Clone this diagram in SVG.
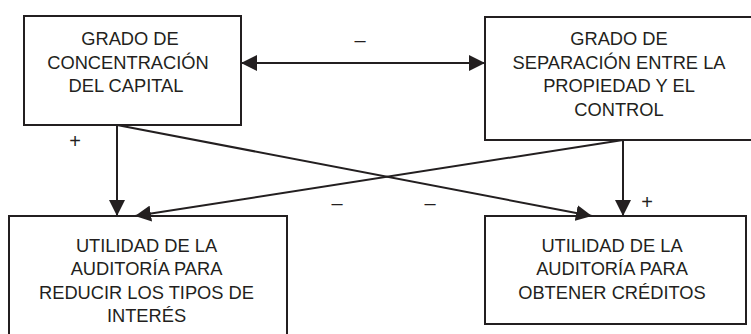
<svg xmlns="http://www.w3.org/2000/svg" width="751" height="334" viewBox="0 0 751 334">
<style>
.box{fill:#fff;stroke:#231f20;stroke-width:2}
.t{font-family:"Liberation Sans",Arial,sans-serif;font-size:18.3px;fill:#231f20;text-anchor:middle}
.c{stroke:#231f20;stroke-width:2;fill:none}
.s{font-family:"Liberation Sans",Arial,sans-serif;font-size:20px;fill:#231f20;text-anchor:middle}
</style>
<defs>
<marker id="ah" markerUnits="userSpaceOnUse" markerWidth="17" markerHeight="16" refX="16" refY="8" orient="auto-start-reverse" viewBox="0 0 17 16">
<path d="M0,0 L16,8 L0,16 z" fill="#231f20"/>
</marker>
</defs>
<rect width="751" height="334" fill="#fff"/>
<g id="n1">
<rect class="box" x="24" y="16" width="217" height="109"/>
<text class="t" x="130" y="45">GRADO DE</text>
<text class="t" x="128" y="68.5">CONCENTRACIÓN</text>
<text class="t" x="126" y="92">DEL CAPITAL</text>
</g>
<g id="n2">
<rect class="box" x="485" y="17" width="270" height="123"/>
<text class="t" x="619" y="45">GRADO DE</text>
<text class="t" x="619" y="68.5">SEPARACIÓN ENTRE LA</text>
<text class="t" x="619" y="92">PROPIEDAD Y EL</text>
<text class="t" x="619" y="115.5">CONTROL</text>
</g>
<g id="n3">
<rect class="box" x="9" y="216" width="278" height="124"/>
<text class="t" x="146.5" y="251.5">UTILIDAD DE LA</text>
<text class="t" x="146.5" y="275">AUDITORÍA PARA</text>
<text class="t" x="146.5" y="298.5">REDUCIR LOS TIPOS DE</text>
<text class="t" x="146.5" y="322">INTERÉS</text>
</g>
<g id="n4">
<rect class="box" x="485" y="216" width="261" height="108"/>
<text class="t" x="612" y="251.5">UTILIDAD DE LA</text>
<text class="t" x="612" y="275">AUDITORÍA PARA</text>
<text class="t" x="612" y="298.5">OBTENER CRÉDITOS</text>
</g>
<g id="connectors">
<line class="c" x1="241" y1="63" x2="485" y2="63" marker-start="url(#ah)" marker-end="url(#ah)"/>
<line class="c" x1="117" y1="125" x2="117" y2="216" marker-end="url(#ah)"/>
<line class="c" x1="117" y1="125" x2="592" y2="216" marker-end="url(#ah)"/>
<line class="c" x1="623" y1="140" x2="135" y2="216" marker-end="url(#ah)"/>
<line class="c" x1="623" y1="140" x2="623" y2="216" marker-end="url(#ah)"/>
<text class="s" x="360" y="47">–</text>
<text class="s" x="75" y="148">+</text>
<text class="s" x="337" y="210">–</text>
<text class="s" x="430" y="210">–</text>
<text class="s" x="647" y="209">+</text>
</g>
</svg>
